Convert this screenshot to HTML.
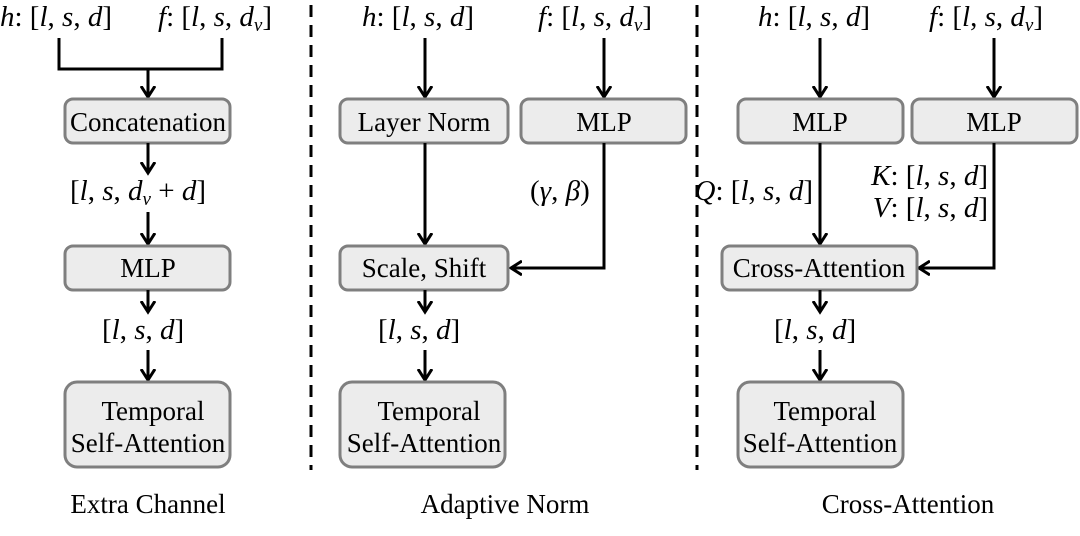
<!DOCTYPE html>
<html><head><meta charset="utf-8"><style>
html,body{margin:0;padding:0;background:#fff;}
svg{display:block;}
text{fill:#000;}
.b{font-size:27px;text-anchor:middle;}
.m{font-size:29px;font-style:italic;}
.r{font-style:normal;}
.box{fill:#ececec;stroke:#7f7f7f;stroke-width:3;}
.ln{stroke:#000;stroke-width:3;fill:none;}
</style></head><body>
<svg width="1080" height="536" viewBox="0 0 1080 536" font-family="'Liberation Serif', 'Times New Roman', serif">
<defs><marker id="a" markerWidth="14" markerHeight="16" refX="11" refY="8" orient="auto" markerUnits="userSpaceOnUse"><path d="M0,1 L11,8 L0,15" fill="none" stroke="#000" stroke-width="3"/></marker></defs>
<line x1="311" y1="5" x2="311" y2="470" stroke="#000" stroke-width="3" stroke-dasharray="12,8"/>
<line x1="697" y1="5" x2="697" y2="470" stroke="#000" stroke-width="3" stroke-dasharray="12,8"/>

<!-- Panel 1 -->
<text class="m" x="0" y="26">h<tspan class="r">: [</tspan>l<tspan class="r">, </tspan>s<tspan class="r">, </tspan>d<tspan class="r">]</tspan></text>
<text class="m" x="158" y="26">f<tspan class="r">: [</tspan>l<tspan class="r">, </tspan>s<tspan class="r">, </tspan>d<tspan font-size="19" dy="5">v</tspan><tspan class="r" dy="-5">]</tspan></text>
<path class="ln" d="M59,38 V69 H222 V38"/>
<line class="ln" x1="148" y1="69" x2="148" y2="97" marker-end="url(#a)"/>
<rect class="box" x="65" y="99" width="165" height="44" rx="8"/>
<text class="b" x="148" y="131">Concatenation</text>
<line class="ln" x1="148" y1="143" x2="148" y2="173" marker-end="url(#a)"/>
<text class="m" x="70" y="200"><tspan class="r">[</tspan>l<tspan class="r">, </tspan>s<tspan class="r">, </tspan>d<tspan font-size="19" dy="5">v</tspan><tspan class="r" dy="-5"> + </tspan>d<tspan class="r">]</tspan></text>
<line class="ln" x1="148" y1="212" x2="148" y2="244" marker-end="url(#a)"/>
<rect class="box" x="65" y="246" width="165" height="44" rx="8"/>
<text class="b" x="148" y="277">MLP</text>
<line class="ln" x1="148" y1="290" x2="148" y2="312" marker-end="url(#a)"/>
<text class="m" x="102" y="339"><tspan class="r">[</tspan>l<tspan class="r">, </tspan>s<tspan class="r">, </tspan>d<tspan class="r">]</tspan></text>
<line class="ln" x1="148" y1="350" x2="148" y2="380" marker-end="url(#a)"/>
<rect class="box" x="65" y="382" width="165" height="85" rx="12"/>
<text class="b" x="153" y="420">Temporal</text>
<text class="b" x="148" y="452">Self-Attention</text>
<text class="b" x="148" y="513" font-size="25">Extra Channel</text>

<!-- Panel 2 -->
<text class="m" x="362" y="26">h<tspan class="r">: [</tspan>l<tspan class="r">, </tspan>s<tspan class="r">, </tspan>d<tspan class="r">]</tspan></text>
<text class="m" x="538" y="26">f<tspan class="r">: [</tspan>l<tspan class="r">, </tspan>s<tspan class="r">, </tspan>d<tspan font-size="19" dy="5">v</tspan><tspan class="r" dy="-5">]</tspan></text>
<line class="ln" x1="425" y1="38" x2="425" y2="97" marker-end="url(#a)"/>
<line class="ln" x1="604" y1="38" x2="604" y2="97" marker-end="url(#a)"/>
<rect class="box" x="340" y="99" width="168" height="44" rx="8"/>
<text class="b" x="424" y="131">Layer Norm</text>
<rect class="box" x="521" y="99" width="165" height="44" rx="8"/>
<text class="b" x="604" y="131">MLP</text>
<line class="ln" x1="425" y1="143" x2="425" y2="244" marker-end="url(#a)"/>
<path class="ln" d="M604,143 V268 H511" marker-end="url(#a)"/>
<text class="m" x="530" y="200"><tspan class="r">(</tspan>γ<tspan class="r">, </tspan>β<tspan class="r">)</tspan></text>
<rect class="box" x="340" y="246" width="168" height="44" rx="8"/>
<text class="b" x="424" y="277">Scale, Shift</text>
<line class="ln" x1="425" y1="290" x2="425" y2="312" marker-end="url(#a)"/>
<text class="m" x="378" y="339"><tspan class="r">[</tspan>l<tspan class="r">, </tspan>s<tspan class="r">, </tspan>d<tspan class="r">]</tspan></text>
<line class="ln" x1="425" y1="350" x2="425" y2="380" marker-end="url(#a)"/>
<rect class="box" x="340" y="382" width="165" height="85" rx="12"/>
<text class="b" x="429" y="420">Temporal</text>
<text class="b" x="424" y="452">Self-Attention</text>
<text class="b" x="505" y="513" font-size="25">Adaptive Norm</text>

<!-- Panel 3 -->
<text class="m" x="758" y="26">h<tspan class="r">: [</tspan>l<tspan class="r">, </tspan>s<tspan class="r">, </tspan>d<tspan class="r">]</tspan></text>
<text class="m" x="929" y="26">f<tspan class="r">: [</tspan>l<tspan class="r">, </tspan>s<tspan class="r">, </tspan>d<tspan font-size="19" dy="5">v</tspan><tspan class="r" dy="-5">]</tspan></text>
<line class="ln" x1="820" y1="38" x2="820" y2="97" marker-end="url(#a)"/>
<line class="ln" x1="994" y1="38" x2="994" y2="97" marker-end="url(#a)"/>
<rect class="box" x="738" y="99" width="165" height="44" rx="8"/>
<text class="b" x="820" y="131">MLP</text>
<rect class="box" x="912" y="99" width="165" height="44" rx="8"/>
<text class="b" x="994" y="131">MLP</text>
<line class="ln" x1="820" y1="143" x2="820" y2="244" marker-end="url(#a)"/>
<path class="ln" d="M994,143 V268 H919" marker-end="url(#a)"/>
<text class="m" x="813" y="200" text-anchor="end">Q<tspan class="r">: [</tspan>l<tspan class="r">, </tspan>s<tspan class="r">, </tspan>d<tspan class="r">]</tspan></text>
<text class="m" x="988" y="185" text-anchor="end">K<tspan class="r">: [</tspan>l<tspan class="r">, </tspan>s<tspan class="r">, </tspan>d<tspan class="r">]</tspan></text>
<text class="m" x="988" y="217" text-anchor="end">V<tspan class="r">: [</tspan>l<tspan class="r">, </tspan>s<tspan class="r">, </tspan>d<tspan class="r">]</tspan></text>
<rect class="box" x="722" y="246" width="195" height="44" rx="8"/>
<text class="b" x="819" y="277">Cross-Attention</text>
<line class="ln" x1="820" y1="290" x2="820" y2="312" marker-end="url(#a)"/>
<text class="m" x="774" y="339"><tspan class="r">[</tspan>l<tspan class="r">, </tspan>s<tspan class="r">, </tspan>d<tspan class="r">]</tspan></text>
<line class="ln" x1="820" y1="350" x2="820" y2="380" marker-end="url(#a)"/>
<rect class="box" x="738" y="382" width="165" height="85" rx="12"/>
<text class="b" x="825" y="420">Temporal</text>
<text class="b" x="820" y="452">Self-Attention</text>
<text class="b" x="908" y="513" font-size="25">Cross-Attention</text>
</svg>
</body></html>
